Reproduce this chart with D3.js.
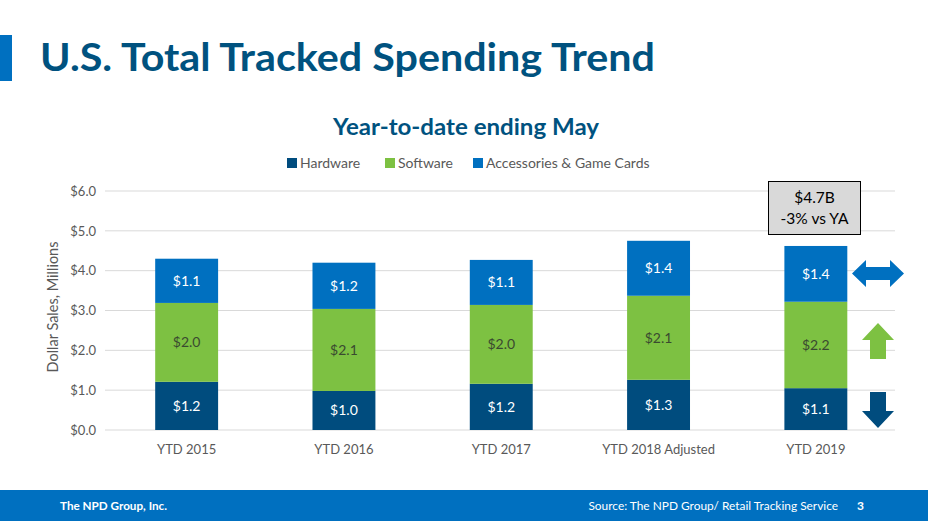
<!DOCTYPE html>
<html><head><meta charset="utf-8">
<script src="https://cdn.jsdelivr.net/npm/d3@7"></script>
<style>body{margin:0;background:#fff}svg{display:block}</style>
</head><body>
<script>
const categories = ["YTD 2015","YTD 2016","YTD 2017","YTD 2018 Adjusted","YTD 2019"];
const seriesNames = ["Hardware","Software","Accessories & Game Cards"];
const hardware = [1.21, 0.98, 1.16, 1.26, 1.05];
const software = [1.98, 2.06, 1.98, 2.11, 2.17];
const accessories = [1.11, 1.16, 1.13, 1.38, 1.40];
const hardwareLabels = ["$1.2","$1.0","$1.2","$1.3","$1.1"];
const softwareLabels = ["$2.0","$2.1","$2.0","$2.1","$2.2"];
const accessoriesLabels = ["$1.1","$1.2","$1.1","$1.4","$1.4"];
const yTicks = [0,1,2,3,4,5,6];
const colors = ["#004C7E","#7DC142","#0070C0"];
const labelColors = ["#ffffff","#3a4a30","#ffffff"];

const W=928,H=521;
const svg=d3.select("body").append("svg").attr("width",W).attr("height",H);
const font="Lato, 'Open Sans', sans-serif";

// header accent and title
svg.append("rect").attr("x",0).attr("y",35).attr("width",12).attr("height",46).attr("fill","#0070C0");
svg.append("text").attr("x",40).attr("y",71).text("U.S. Total Tracked Spending Trend")
  .attr("font-family",font).attr("font-weight","bold").attr("font-size",39).attr("fill","#00527F")
  .attr("textLength",615).attr("lengthAdjust","spacingAndGlyphs");
svg.append("text").attr("x",333).attr("y",135).text("Year-to-date ending May")
  .attr("font-family",font).attr("font-weight","bold").attr("font-size",22).attr("fill","#00527F")
  .attr("textLength",266).attr("lengthAdjust","spacingAndGlyphs");

// legend
const legendX=[287,385,473];
seriesNames.forEach((n,i)=>{
  svg.append("rect").attr("x",legendX[i]).attr("y",158).attr("width",10).attr("height",10).attr("fill",colors[i]);
  svg.append("text").attr("x",legendX[i]+13).attr("y",168).text(n)
    .attr("font-family",font).attr("font-size",14).attr("fill","#595959");
});

const x=d3.scaleBand().domain(categories).range([108,894.5]).paddingInner(0.6).paddingOuter(0.3);
const y=d3.scaleLinear().domain([0,6]).range([430,191]);

// gridlines
svg.append("g").selectAll("line").data(yTicks).join("line")
  .attr("x1",105).attr("x2",895).attr("y1",d=>y(d)).attr("y2",d=>y(d))
  .attr("stroke","#d9d9d9").attr("stroke-width",1);

// y axis
const yAxis=d3.axisLeft(y).tickValues(yTicks).tickFormat(d=>"$"+d.toFixed(1)).tickSize(0).tickPadding(9);
const ga=svg.append("g").attr("transform","translate(105,0)").call(yAxis);
ga.select(".domain").remove();
ga.selectAll("text").attr("font-family",font).attr("font-size",13).attr("fill","#595959");

svg.append("text").attr("transform","translate(58,307) rotate(-90)").attr("text-anchor","middle")
  .text("Dollar Sales, Millions").attr("font-family",font).attr("font-size",14.5).attr("fill","#595959");

// x axis
const xAxis=d3.axisBottom(x).tickSize(0).tickPadding(15);
const gx=svg.append("g").attr("transform","translate(0,430)").call(xAxis);
gx.select(".domain").remove();
gx.selectAll("text").attr("font-family",font).attr("font-size",13).attr("fill","#595959");

// stacked bars
const rows=categories.map((c,i)=>({cat:c,Hardware:hardware[i],Software:software[i],"Accessories & Game Cards":accessories[i]}));
const stack=d3.stack().keys(seriesNames)(rows);
const labelsAll=[hardwareLabels,softwareLabels,accessoriesLabels];
stack.forEach((layer,si)=>{
  const g=svg.append("g");
  g.selectAll("rect").data(layer).join("rect")
    .attr("x",d=>x(d.data.cat)).attr("width",x.bandwidth())
    .attr("y",d=>y(d[1])).attr("height",d=>y(d[0])-y(d[1])).attr("fill",colors[si]);
  g.selectAll("text").data(layer).join("text")
    .attr("x",d=>x(d.data.cat)+x.bandwidth()/2).attr("y",d=>(y(d[0])+y(d[1]))/2+5)
    .attr("text-anchor","middle").text((d,i)=>labelsAll[si][i])
    .attr("font-family",font).attr("font-size",14).attr("fill",labelColors[si]);
});

// callout
svg.append("rect").attr("x",768.5).attr("y",181.5).attr("width",92).attr("height",53)
  .attr("fill","#d9d9d9").attr("stroke","#000").attr("stroke-width",1);
svg.append("text").attr("x",814.5).attr("y",203).attr("text-anchor","middle").text("$4.7B")
  .attr("font-family",font).attr("font-size",15.5).attr("fill","#000");
svg.append("text").attr("x",814.5).attr("y",224).attr("text-anchor","middle").text("-3% vs YA")
  .attr("font-family",font).attr("font-size",15.5).attr("fill","#000");

// arrows
svg.append("path").attr("d","M852,273.5 L866,260 L866,267 L890,267 L890,260 L904,273.5 L890,287 L890,280 L866,280 L866,287 Z").attr("fill","#0070C0");
svg.append("path").attr("d","M878,323 L894,340 L886,340 L886,359 L870,359 L870,340 L862,340 Z").attr("fill","#7DC142");
svg.append("path").attr("d","M878,428 L894,411 L886,411 L886,392 L870,392 L870,411 L862,411 Z").attr("fill","#004C7E");

// footer
svg.append("rect").attr("x",0).attr("y",490).attr("width",W).attr("height",31).attr("fill","#0070C0");
svg.append("text").attr("x",60).attr("y",510).text("The NPD Group, Inc.")
  .attr("font-family",font).attr("font-weight","bold").attr("font-size",11.7).attr("fill","#fff");
svg.append("text").attr("x",838).attr("y",510).attr("text-anchor","end").text("Source: The NPD Group/ Retail Tracking Service")
  .attr("font-family",font).attr("font-size",11.9).attr("fill","#fff");
svg.append("text").attr("x",857).attr("y",510).text("3")
  .attr("font-family",font).attr("font-weight","bold").attr("font-size",12).attr("fill","#fff");
</script>
</body></html>
